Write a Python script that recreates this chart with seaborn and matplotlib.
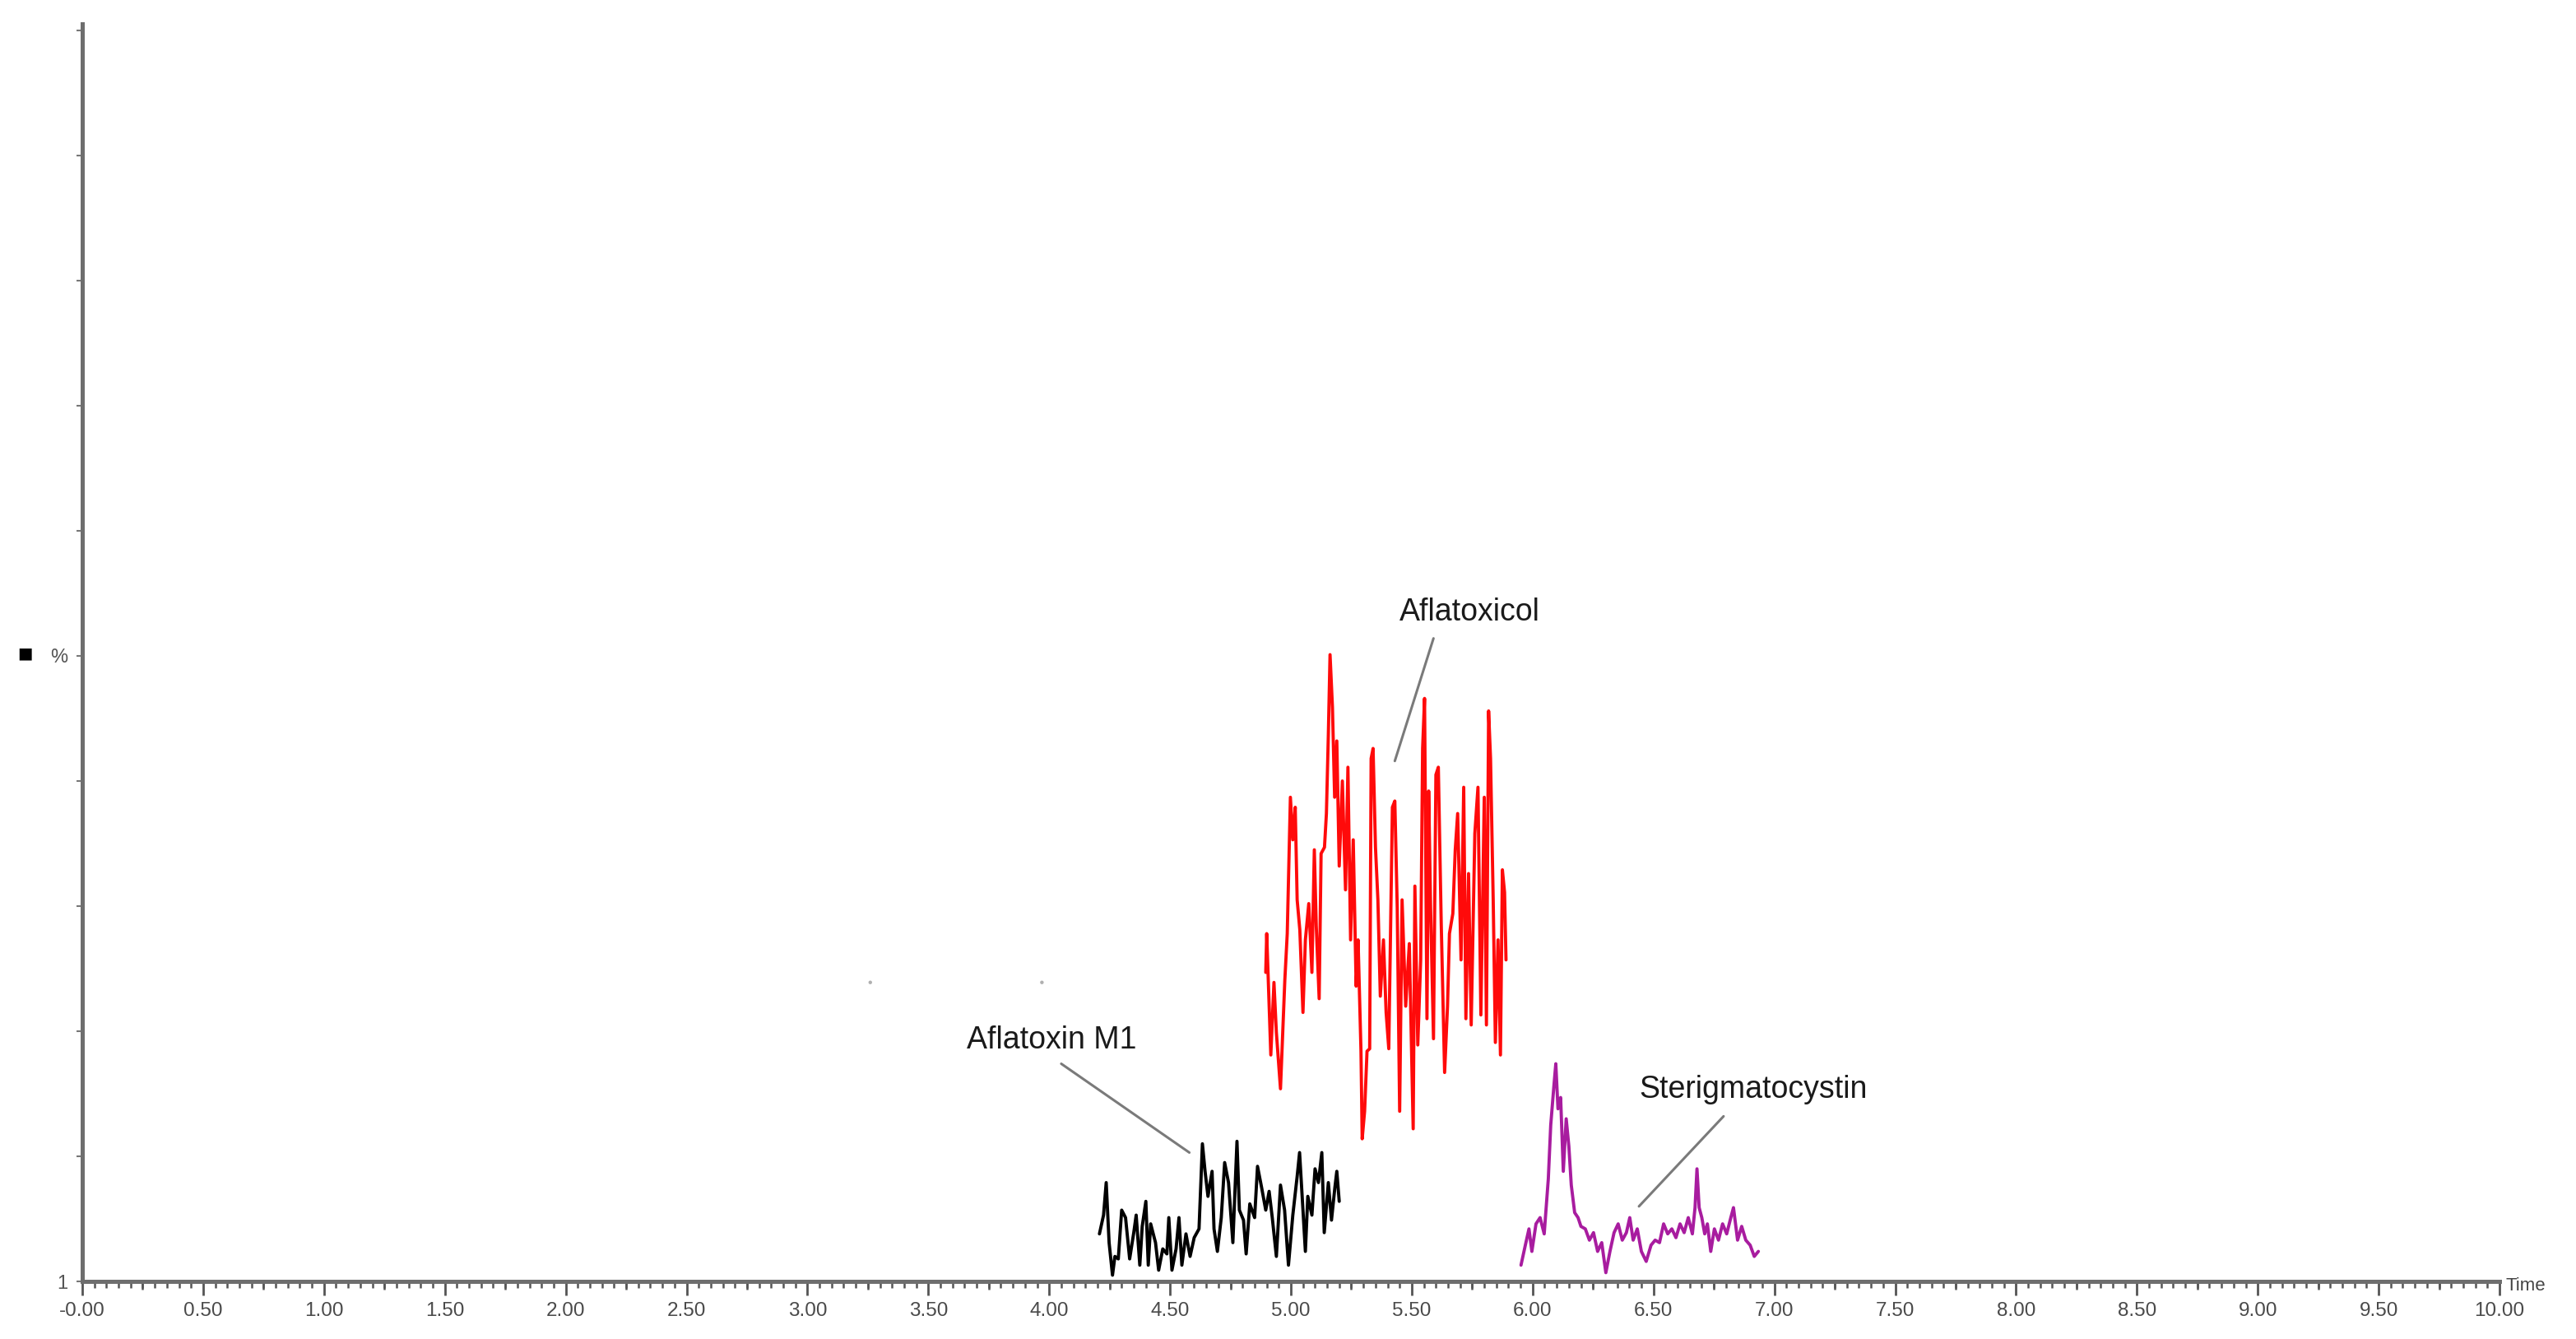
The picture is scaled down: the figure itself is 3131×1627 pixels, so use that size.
import numpy as np
import pandas as pd
import matplotlib
matplotlib.use("Agg")
import matplotlib.pyplot as plt
import seaborn as sns

# ---------------- data ----------------
m1_time = [4.208, 4.225, 4.236, 4.248, 4.262, 4.272, 4.286, 4.300, 4.316, 4.333,
           4.350, 4.360, 4.375, 4.385, 4.400, 4.410, 4.420, 4.440, 4.453, 4.470,
           4.487, 4.495, 4.508, 4.525, 4.537, 4.549, 4.566, 4.583, 4.600, 4.620,
           4.634, 4.645, 4.657, 4.674, 4.682, 4.696, 4.712, 4.726, 4.742, 4.760,
           4.777, 4.787, 4.804, 4.815, 4.830, 4.850, 4.862, 4.879, 4.896, 4.910,
           4.923, 4.940, 4.957, 4.974, 4.990, 5.008, 5.026, 5.036, 5.050, 5.060,
           5.070, 5.087, 5.100, 5.114, 5.128, 5.138, 5.155, 5.168, 5.182, 5.190,
           5.200]
m1_pct = [3.8, 5.3, 7.9, 3.1, 0.5, 2.0, 1.8, 5.7, 5.1, 1.8,
          3.9, 5.3, 1.3, 4.4, 6.4, 1.3, 4.6, 3.1, 0.9, 2.6,
          2.2, 5.1, 0.9, 2.6, 5.1, 1.3, 3.8, 2.0, 3.5, 4.2,
          11.0, 8.8, 6.8, 8.8, 4.2, 2.4, 5.1, 9.5, 7.9, 3.1,
          11.2, 5.7, 4.9, 2.2, 6.2, 5.1, 9.2, 7.5, 5.7, 7.2,
          5.1, 2.0, 7.7, 5.7, 1.3, 5.3, 8.4, 10.3, 5.7, 2.4,
          6.8, 5.3, 9.0, 7.9, 10.3, 3.9, 7.9, 4.9, 7.5, 8.8,
          6.4]

afol_time = [4.896, 4.900, 4.917, 4.930, 4.940, 4.957, 4.975, 4.985, 4.998, 5.008,
             5.018, 5.026, 5.037, 5.050, 5.060, 5.074, 5.087, 5.097, 5.105, 5.117,
             5.125, 5.139, 5.147, 5.155, 5.162, 5.172, 5.181, 5.190, 5.200, 5.213,
             5.226, 5.236, 5.247, 5.258, 5.270, 5.278, 5.290, 5.295, 5.305, 5.315,
             5.326, 5.332, 5.340, 5.350, 5.360, 5.370, 5.383, 5.394, 5.405, 5.420,
             5.430, 5.440, 5.450, 5.460, 5.475, 5.490, 5.506, 5.513, 5.525, 5.537,
             5.545, 5.553, 5.563, 5.570, 5.578, 5.590, 5.600, 5.610, 5.622, 5.636,
             5.648, 5.656, 5.670, 5.680, 5.690, 5.704, 5.715, 5.724, 5.735, 5.746,
             5.761, 5.774, 5.786, 5.800, 5.809, 5.818, 5.826, 5.837, 5.846, 5.857,
             5.867, 5.875, 5.884, 5.890]
afol_pct = [24.7, 27.8, 18.1, 23.9, 19.9, 15.4, 24.1, 27.8, 38.7, 35.3,
            37.9, 30.5, 28.1, 21.5, 27.3, 30.2, 24.7, 34.5, 28.4, 22.6,
            34.2, 34.7, 37.4, 43.7, 50.1, 45.9, 38.7, 43.2, 33.2, 40.0,
            31.3, 41.1, 27.3, 35.3, 23.6, 27.3, 18.4, 11.4, 13.6, 18.4,
            18.6, 41.8, 42.6, 34.7, 30.5, 22.8, 27.3, 21.5, 18.6, 37.9,
            38.4, 29.9, 13.6, 30.5, 22.0, 27.0, 12.2, 31.6, 18.9, 25.7,
            42.6, 46.6, 21.0, 39.2, 29.9, 19.4, 40.5, 41.1, 28.6, 16.7,
            22.0, 27.8, 29.4, 34.5, 37.4, 25.7, 39.5, 21.0, 32.6, 20.5,
            35.8, 39.5, 21.3, 38.7, 20.5, 45.6, 41.8, 30.5, 19.1, 27.3,
            18.1, 32.9, 31.1, 25.7]

ster_time = [5.952, 5.970, 5.985, 5.997, 6.014, 6.031, 6.048, 6.065, 6.075, 6.088,
             6.096, 6.105, 6.116, 6.127, 6.139, 6.150, 6.160, 6.174, 6.188, 6.200,
             6.218, 6.235, 6.252, 6.269, 6.286, 6.303, 6.320, 6.337, 6.354, 6.371,
             6.388, 6.402, 6.416, 6.433, 6.450, 6.470, 6.490, 6.507, 6.525, 6.542,
             6.559, 6.576, 6.593, 6.610, 6.627, 6.644, 6.661, 6.672, 6.680, 6.689,
             6.700, 6.712, 6.723, 6.737, 6.752, 6.769, 6.786, 6.803, 6.820, 6.831,
             6.848, 6.865, 6.882, 6.900, 6.917, 6.934]
ster_pct = [1.3, 2.9, 4.2, 2.4, 4.6, 5.1, 3.8, 8.2, 12.5, 15.6,
            17.4, 13.8, 14.7, 8.8, 13.0, 10.8, 7.7, 5.5, 5.1, 4.4,
            4.2, 3.3, 3.9, 2.4, 3.1, 0.7, 2.4, 3.9, 4.6, 3.3,
            3.9, 5.1, 3.3, 4.2, 2.4, 1.6, 2.9, 3.3, 3.1, 4.6,
            3.8, 4.2, 3.5, 4.6, 3.9, 5.1, 3.8, 5.9, 9.0, 5.9,
            5.1, 3.8, 4.6, 2.4, 4.2, 3.3, 4.6, 3.8, 5.1, 5.9,
            3.3, 4.4, 3.3, 2.9, 2.0, 2.4]

stray_time = [3.26, 3.97]
stray_pct = [23.9, 23.9]

x_tick_values = [0.0, 0.5, 1.0, 1.5, 2.0, 2.5, 3.0, 3.5, 4.0, 4.5, 5.0,
                 5.5, 6.0, 6.5, 7.0, 7.5, 8.0, 8.5, 9.0, 9.5, 10.0]
x_tick_labels = ["-0.00", "0.50", "1.00", "1.50", "2.00", "2.50", "3.00", "3.50",
                 "4.00", "4.50", "5.00", "5.50", "6.00", "6.50", "7.00", "7.50",
                 "8.00", "8.50", "9.00", "9.50", "10.00"]

compound_names = ["Aflatoxin M1", "Aflatoxicol", "Sterigmatocystin"]
label_pos_time = [3.66, 5.45, 6.44]
label_pos_pct = [19.3, 53.5, 15.3]
leader_start_time = [4.05, 5.59, 6.79]
leader_start_pct = [17.4, 51.4, 13.2]
leader_end_time = [4.58, 5.43, 6.44]
leader_end_pct = [10.3, 41.6, 6.0]

# ---------------- figure ----------------
sns.set_theme(style="white")
plt.rcParams['font.family'] = ['Liberation Sans', 'DejaVu Sans']

fig = plt.figure(figsize=(31.31, 16.27), dpi=100)
ax = fig.add_axes([100 / 3131, 0.043, (3038 - 100) / 3131, 0.939])

colors = {"Aflatoxin M1": "#000000", "Aflatoxicol": "#ff0a0a", "Sterigmatocystin": "#a81c9f"}
frames = [
    pd.DataFrame({"time": m1_time, "pct": m1_pct, "compound": "Aflatoxin M1"}),
    pd.DataFrame({"time": afol_time, "pct": afol_pct, "compound": "Aflatoxicol"}),
    pd.DataFrame({"time": ster_time, "pct": ster_pct, "compound": "Sterigmatocystin"}),
]
for df in frames:
    name = df["compound"].iloc[0]
    sns.lineplot(data=df, x="time", y="pct", color=colors[name], lw=2.8,
                 sort=False, estimator=None, ax=ax, legend=False)

sns.scatterplot(x=stray_time, y=stray_pct, ax=ax, color="#b0b0b0", s=10,
                edgecolor="none", legend=False)

# annotations
for name, lx, ly, sx, sy, ex, ey in zip(compound_names, label_pos_time, label_pos_pct,
                                         leader_start_time, leader_start_pct,
                                         leader_end_time, leader_end_pct):
    ax.text(lx, ly, name, fontsize=27, color="#1a1a1a", ha="left", va="center")
    ax.plot([sx, ex], [sy, ey], color="#7a7a7a", lw=2.2)

ax.set_xlim(0, 10)
ax.set_ylim(0, 100.5)

# spines
for s in ["top", "right"]:
    ax.spines[s].set_visible(False)
for s in ["left", "bottom"]:
    ax.spines[s].set_color("#6e6e6e")
    ax.spines[s].set_linewidth(3.6)

# x ticks
ax.set_xticks(x_tick_values)
ax.set_xticklabels(x_tick_labels, fontsize=17.5, color="#4a4a4a")
ax.set_xticks(np.arange(0, 10.001, 0.05), minor=True)
ax.tick_params(axis="x", which="major", direction="out", length=12, width=2,
               color="#555555", pad=6, bottom=True)
ax.tick_params(axis="x", which="minor", direction="out", length=6, width=1.8,
               color="#555555", bottom=True)
# slightly longer ticks at the quarter positions
for q in np.arange(0.25, 10, 0.5):
    ax.plot([q, q], [0, 1], transform=ax.get_xaxis_transform(), alpha=0)
ax.vlines(np.arange(0.25, 10, 0.5), -0.65, 0, color="#555555", lw=1.8,
          clip_on=False)

# y ticks
ax.set_yticks(np.arange(0, 101, 10))
ylabels = [""] * 11
ylabels[0] = "1"
ylabels[5] = "%"
ax.set_yticklabels(ylabels, fontsize=17, color="#555555")
ax.tick_params(axis="y", which="major", direction="out", length=5, width=1.5,
               color="#777777", pad=8, left=True)

ax.set_xlabel("")
ax.set_ylabel("")

fig.text(3045 / 3131, 1 - 1562 / 1627, "Time", fontsize=16, color="#444444",
         ha="left", va="center")
fig.text(30 / 3131, 1 - 794 / 1627, "\u25a0", fontsize=14, color="black",
         ha="center", va="center", family="DejaVu Sans")

fig.savefig("out.png", dpi=100, facecolor="white")
